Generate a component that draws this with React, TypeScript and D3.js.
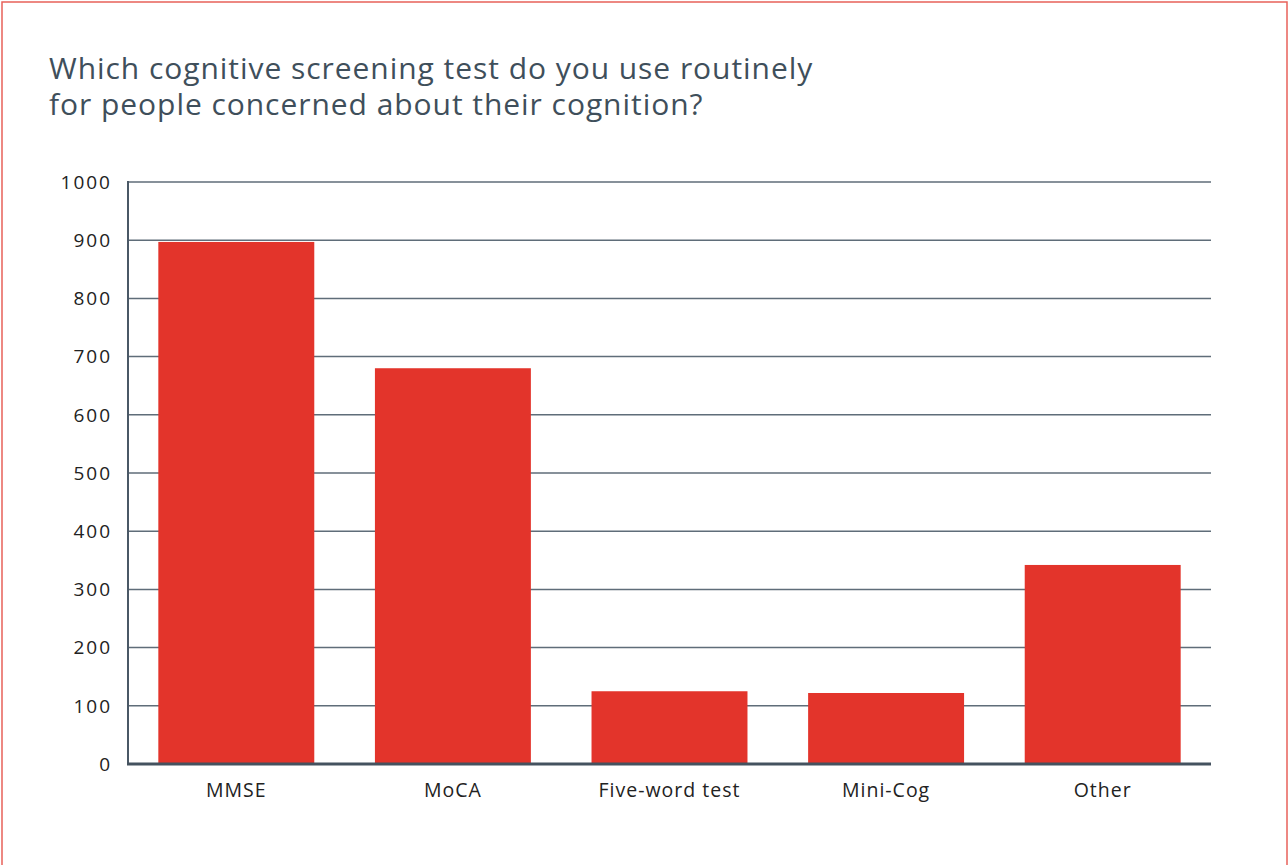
import React from "react";
import * as d3 from "d3";

const categories = ["MMSE", "MoCA", "Five-word test", "Mini-Cog", "Other"];
const values = [897, 680, 125, 122, 342];
const yTicks = [0, 100, 200, 300, 400, 500, 600, 700, 800, 900, 1000];
const titleLines = [
  "Which cognitive screening test do you use routinely",
  "for people concerned about their cognition?",
];

export default function App() {
  const W = 1288;
  const H = 865;
  const left = 128;
  const right = 1211;
  const top = 182;
  const bottom = 764;

  const x = d3
    .scaleBand<string>()
    .domain(categories)
    .range([left, right])
    .paddingInner(0.28)
    .paddingOuter(0.14);
  const y = d3.scaleLinear().domain([0, 1000]).range([bottom, top]);

  const font = "'Open Sans', Lato, sans-serif";

  return (
    <svg
      width={W}
      height={H}
      style={{ position: "absolute", left: 0, top: 0, background: "#fff" }}
    >
      <rect x={2} y={2} width={1285} height={H + 10} fill="none" stroke="#e8615a" strokeWidth={1.5} />
      {titleLines.map((t, i) => (
        <text
          key={i}
          x={49}
          y={79 + i * 36}
          fontFamily={font}
          fontSize={30}
          letterSpacing={0.95}
          fill="#3f4f5b"
        >
          {t}
        </text>
      ))}
      {yTicks.map((v) =>
        v === 0 ? null : (
          <line
            key={"g" + v}
            x1={left}
            x2={right}
            y1={y(v)}
            y2={y(v)}
            stroke="#5f6d79"
            strokeWidth={1.5}
          />
        )
      )}
      {categories.map((c, i) => (
        <rect
          key={c}
          x={x(c)}
          y={y(values[i])}
          width={x.bandwidth()}
          height={y(0) - y(values[i])}
          fill="#e3342b"
        />
      ))}
      <line x1={left} x2={left} y1={top - 1} y2={bottom} stroke="#4a5866" strokeWidth={2} />
      <line x1={left - 1} x2={right} y1={bottom} y2={bottom} stroke="#44525f" strokeWidth={3} />
      {yTicks.map((v) => (
        <text
          key={"t" + v}
          x={112}
          y={y(v)}
          dy="0.36em"
          textAnchor="end"
          fontFamily={font}
          fontSize={19}
          letterSpacing={2}
          fill="#222"
        >
          {v}
        </text>
      ))}
      {categories.map((c) => (
        <text
          key={"l" + c}
          x={(x(c) as number) + x.bandwidth() / 2}
          y={797}
          textAnchor="middle"
          fontFamily={font}
          fontSize={19.5}
          letterSpacing={1}
          fill="#222"
        >
          {c}
        </text>
      ))}
    </svg>
  );
}
